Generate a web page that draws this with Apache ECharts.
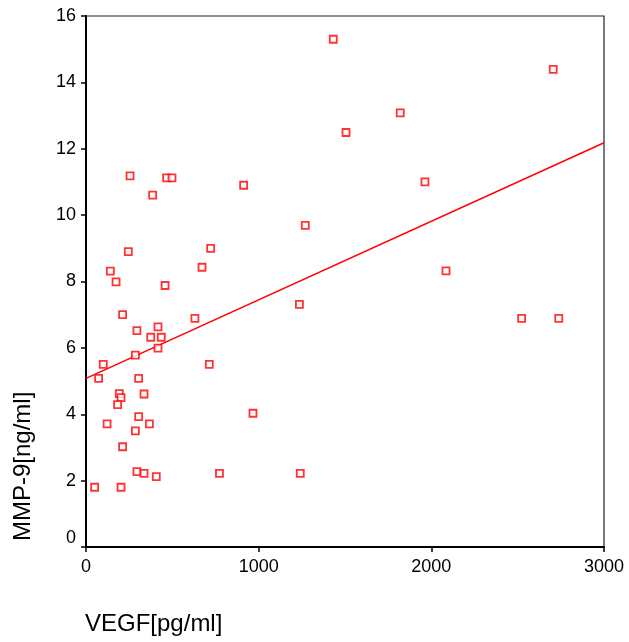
<!DOCTYPE html>
<html>
<head>
<meta charset="utf-8">
<script src="https://cdn.jsdelivr.net/npm/echarts@6/dist/echarts.min.js"></script>
<style>html,body{margin:0;padding:0;background:#fff;}#c{width:629px;height:642px;}</style>
</head>
<body>
<div id="c"></div>
<script>
// VEGF [pg/ml] values
var vegf = [255, 386, 467, 498, 913, 245, 722, 141, 174, 672, 458, 212, 631, 295, 417, 375, 436,
            417, 286, 100, 714, 73, 305, 193, 203, 336, 183, 967, 305, 122, 367, 286, 212, 295, 336, 407, 773, 50, 203,
            1432, 2706, 1820, 1506, 1963, 1270, 2085, 1236, 2523, 2738, 1241];
// MMP-9 [ng/ml] values
var mmp9 = [11.18, 10.6, 11.12, 11.12, 10.9, 8.9, 9.0, 8.31, 7.99, 8.43, 7.88, 7.0, 6.89, 6.52, 6.63, 6.32, 6.32,
            5.99, 5.78, 5.5, 5.5, 5.08, 5.08, 4.62, 4.5, 4.61, 4.29, 4.03, 3.93, 3.71, 3.71, 3.5, 3.02, 2.27, 2.22, 2.12, 2.22, 1.8, 1.8,
            15.3, 14.39, 13.08, 12.49, 11.0, 9.69, 8.32, 7.31, 6.89, 6.89, 2.22];
// Fitted line end points
var fitX = [0, 3000];
var fitY = [5.08, 12.18];
var xTicks = [0, 1000, 2000, 3000];
var yTicks = [0, 2, 4, 6, 8, 10, 12, 14, 16];

var pts = vegf.map(function (v, i) { return [v, mmp9[i]]; });
var fit = fitX.map(function (v, i) { return [v, fitY[i]]; });

var chart = echarts.init(document.getElementById('c'));
var font = 'Liberation Sans, Arial, Helvetica, sans-serif';
chart.setOption({
  animation: false,
  backgroundColor: '#fff',
  grid: { left: 86, right: 25, top: 16, bottom: 95, show: true, borderColor: '#222', borderWidth: 1.2, backgroundColor: 'transparent' },
  xAxis: {
    type: 'value', min: xTicks[0], max: xTicks[xTicks.length - 1], interval: 1000,
    axisLine: { show: true, onZero: false, lineStyle: { color: '#000', width: 2 } },
    axisTick: { show: true, length: 5, lineStyle: { color: '#000', width: 1.5 } },
    axisLabel: { color: '#000', fontSize: 18, fontFamily: font, margin: 11, formatter: function (v) { return String(v); } },
    splitLine: { show: false }
  },
  yAxis: {
    type: 'value', min: yTicks[0], max: yTicks[yTicks.length - 1], interval: 2,
    axisLine: { show: true, onZero: false, lineStyle: { color: '#000', width: 2 } },
    axisTick: { show: true, length: 5, lineStyle: { color: '#000', width: 1.5 } },
    axisLabel: {
      color: '#000', fontSize: 18, fontFamily: font, margin: 10,
      formatter: function (v) { return v === 0 ? '{z|0}' : String(v); },
      rich: { z: { fontSize: 18, fontFamily: font, color: '#000', padding: [0, 0, 18, 0] } }
    },
    splitLine: { show: false }
  },
  graphic: [
    { type: 'text', left: 85, top: 612, style: { text: 'VEGF[pg/ml]', fill: '#000', font: '24px ' + font } },
    { type: 'text', x: 23, y: 541, rotation: Math.PI / 2, style: { text: 'MMP-9[ng/ml]', fill: '#000', font: '24px ' + font, align: 'left', verticalAlign: 'middle' } }
  ],
  series: [
    {
      type: 'line', data: fit, symbol: 'none', silent: true,
      lineStyle: { color: '#ff0000', width: 1.5 }, z: 2
    },
    {
      type: 'scatter', data: pts, symbol: 'rect', symbolSize: 7,
      itemStyle: { color: '#fff', borderColor: '#ff0000', borderWidth: 1.8 }, z: 3
    }
  ]
});
</script>
</body>
</html>
